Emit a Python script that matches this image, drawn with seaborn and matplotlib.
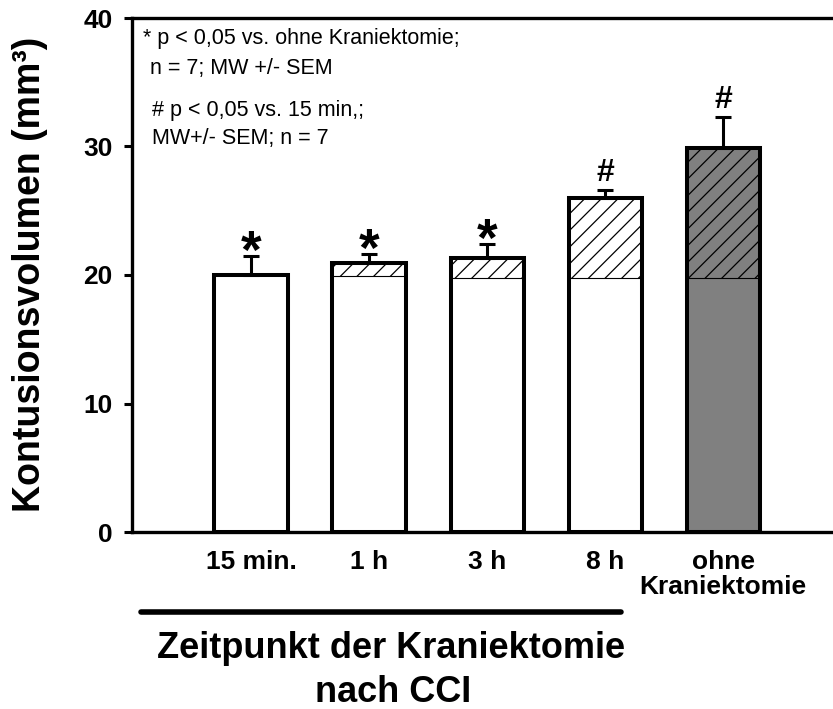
import numpy as np
import pandas as pd
import matplotlib
matplotlib.use("Agg")
import matplotlib.pyplot as plt
import seaborn as sns
from matplotlib.lines import Line2D

# ---- data ----
categories = ["15 min.", "1 h", "3 h", "8 h", "ohne\nKraniektomie"]
total_volume = [20.0, 20.9, 21.3, 26.0, 29.9]
base_volume = [20.0, 19.9, 19.8, 19.8, 19.8]
sem = [1.5, 0.75, 1.15, 0.6, 2.4]
sig_marks = ["*", "*", "*", "#", "#"]
fill_colors = ["white", "white", "white", "white", "#808080"]
y_ticks = [0, 10, 20, 30, 40]

sns.set_theme(style="ticks")
plt.rcParams["font.family"] = ["Liberation Sans", "DejaVu Sans"]
plt.rcParams["hatch.linewidth"] = 0.9
plt.rcParams["text.color"] = "black"
plt.rcParams["axes.labelcolor"] = "black"
plt.rcParams["xtick.color"] = "black"
plt.rcParams["ytick.color"] = "black"
plt.rcParams["axes.edgecolor"] = "black"

fig = plt.figure(figsize=(8.33, 7.09), dpi=100)
ax = fig.add_axes([132 / 833, 1 - 532 / 709, 1 - 132 / 833, 514 / 709])

df = pd.DataFrame({"cat": categories, "total": total_volume,
                   "base": base_volume, "sem": sem})

# hatched upper part (full height, no outline)
sns.barplot(data=df, x="cat", y="total", hue="cat", palette=fill_colors,
            legend=False, width=0.62, saturation=1, errorbar=None, ax=ax,
            edgecolor="black", linewidth=0, hatch="//", zorder=1)
# plain lower part
sns.barplot(data=df, x="cat", y="base", hue="cat", palette=fill_colors,
            legend=False, width=0.62, saturation=1, errorbar=None, ax=ax,
            edgecolor="black", linewidth=0.8, zorder=2)
# error bars (upper only)
ax.errorbar(x=np.arange(len(categories)), y=total_volume,
            yerr=[np.zeros(len(sem)), sem], fmt="none", ecolor="black",
            elinewidth=2.2, capsize=6.1, capthick=2.2, zorder=3)
# thick outline
sns.barplot(data=df, x="cat", y="total", fill=False, color="black",
            width=0.62, errorbar=None, ax=ax, linewidth=2.9, zorder=4)

# significance markers
for i, m in enumerate(sig_marks):
    top = total_volume[i] + sem[i]
    if m == "*":
        ax.annotate(m, xy=(i, top), xytext=(0, -9), textcoords="offset points",
                    ha="center", va="baseline", fontsize=38, fontweight="bold",
                    color="black")
    else:
        ax.annotate(m, xy=(i, top), xytext=(0, 6.5), textcoords="offset points",
                    ha="center", va="baseline", fontsize=23, fontweight="bold",
                    color="black")

ax.set_xlim(-1.008, 4.93)
ax.set_ylim(0, 40)
ax.set_yticks(y_ticks)
ax.set_xlabel("")
ax.set_ylabel("")

for side in ["left", "bottom", "top"]:
    ax.spines[side].set_linewidth(2.4)
    ax.spines[side].set_color("black")
ax.spines["right"].set_visible(False)

ax.tick_params(axis="x", length=0, pad=13, labelsize=19, colors="black")
ax.tick_params(axis="y", length=5.8, width=2.2, direction="out", pad=8,
               labelsize=19, colors="black")
for t in ax.get_xticklabels():
    t.set_fontweight("bold")
    t.set_linespacing(1.05)
for t in ax.get_yticklabels():
    t.set_fontweight("bold")

# legend-like notes
note_kw = dict(transform=ax.transAxes, ha="left", va="baseline", fontsize=15.5,
               color="black")
ax.text(0.0157, 0.9485, "* p < 0,05 vs. ohne Kraniektomie;", **note_kw)
ax.text(0.0257, 0.892, "n = 7; MW +/- SEM", **note_kw)
ax.text(0.0285, 0.810, "# p < 0,05 vs. 15 min,;", **note_kw)
ax.text(0.0285, 0.754, "MW+/- SEM; n = 7", **note_kw)

# axis titles
fig.text(30 / 833, 1 - 274 / 709, "Kontusionsvolumen (mm³)", rotation=90,
         ha="center", va="center", fontsize=27, fontweight="bold", color="black")
fig.add_artist(Line2D([141 / 833, 621 / 833], [1 - 612 / 709] * 2,
                      color="black", lw=4, transform=fig.transFigure))
fig.text(391 / 833, 1 - 658 / 709, "Zeitpunkt der Kraniektomie",
         ha="center", va="baseline", fontsize=26, fontweight="bold", color="black")
fig.text(393 / 833, 1 - 702 / 709, "nach CCI",
         ha="center", va="baseline", fontsize=26, fontweight="bold", color="black")

fig.savefig("out.png", dpi=100)
